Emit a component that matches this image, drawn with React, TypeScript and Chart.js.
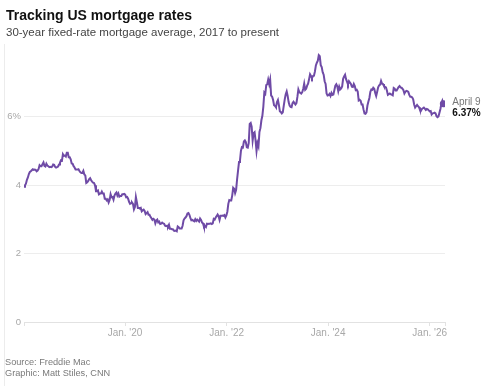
import React, { useEffect, useRef } from "react";
import { Chart, registerables } from "chart.js";

Chart.register(...registerables);

// Freddie Mac PMMS 30-year fixed rate, weekly (%)
const rates2018 = [3.95, 3.99, 4.04, 4.15, 4.22, 4.32, 4.38, 4.40, 4.43, 4.46, 4.44, 4.45, 4.44, 4.40, 4.42, 4.47, 4.58, 4.55, 4.55, 4.61, 4.66, 4.56, 4.54, 4.62, 4.57, 4.55, 4.52, 4.53, 4.52, 4.54, 4.60, 4.59, 4.53, 4.51, 4.52, 4.54, 4.60, 4.65, 4.72, 4.71, 4.90, 4.85, 4.86, 4.83, 4.94, 4.94, 4.81, 4.81, 4.75, 4.63, 4.62, 4.55];
const rates2019 = [4.51, 4.45, 4.45, 4.45, 4.46, 4.41, 4.37, 4.35, 4.35, 4.41, 4.31, 4.28, 4.06, 4.08, 4.12, 4.17, 4.20, 4.14, 4.10, 4.07, 4.06, 3.99, 3.82, 3.82, 3.84, 3.73, 3.75, 3.75, 3.81, 3.75, 3.75, 3.60, 3.60, 3.55, 3.58, 3.49, 3.56, 3.73, 3.64, 3.65, 3.57, 3.69, 3.75, 3.78, 3.69, 3.75, 3.66, 3.68, 3.68, 3.73, 3.73, 3.74];
const rates2020 = [3.72, 3.64, 3.65, 3.60, 3.51, 3.45, 3.47, 3.49, 3.45, 3.29, 3.36, 3.65, 3.50, 3.33, 3.33, 3.31, 3.33, 3.23, 3.26, 3.28, 3.24, 3.15, 3.18, 3.21, 3.13, 3.13, 3.07, 3.03, 2.98, 3.01, 2.99, 2.88, 2.96, 2.99, 2.91, 2.93, 2.86, 2.87, 2.90, 2.88, 2.87, 2.81, 2.80, 2.81, 2.78, 2.84, 2.72, 2.72, 2.71, 2.71, 2.67, 2.66, 2.67];
const rates2021 = [2.65, 2.79, 2.77, 2.73, 2.73, 2.73, 2.81, 2.97, 3.02, 3.05, 3.09, 3.17, 3.18, 3.13, 3.04, 2.97, 2.98, 2.96, 2.94, 3.00, 2.95, 2.99, 2.96, 2.93, 3.02, 2.98, 2.90, 2.88, 2.78, 2.80, 2.77, 2.87, 2.86, 2.87, 2.87, 2.88, 2.86, 2.88, 3.01, 2.99, 3.05, 3.09, 3.14, 3.09, 2.98, 3.10, 3.10, 3.11, 3.10, 3.12, 3.05, 3.11];
const rates2022 = [3.22, 3.45, 3.56, 3.55, 3.55, 3.69, 3.92, 3.89, 3.76, 3.85, 4.16, 4.42, 4.67, 4.72, 5.00, 5.11, 5.10, 5.27, 5.30, 5.25, 5.10, 5.09, 5.23, 5.78, 5.81, 5.70, 5.30, 5.51, 5.54, 5.30, 4.99, 5.22, 5.13, 5.55, 5.66, 5.89, 6.02, 6.29, 6.70, 6.66, 6.92, 6.94, 7.08, 6.95, 7.08, 6.61, 6.58, 6.49, 6.33, 6.31, 6.27, 6.42];
const rates2023 = [6.48, 6.33, 6.15, 6.13, 6.09, 6.12, 6.32, 6.50, 6.65, 6.73, 6.60, 6.42, 6.32, 6.28, 6.27, 6.39, 6.43, 6.39, 6.35, 6.39, 6.57, 6.79, 6.71, 6.69, 6.67, 6.71, 6.81, 6.96, 6.78, 6.81, 6.90, 6.96, 7.09, 7.23, 7.18, 7.12, 7.18, 7.19, 7.31, 7.49, 7.57, 7.63, 7.79, 7.76, 7.50, 7.44, 7.29, 7.22, 7.03, 6.95, 6.67, 6.61];
const rates2024 = [6.62, 6.66, 6.60, 6.69, 6.63, 6.64, 6.77, 6.90, 6.94, 6.88, 6.74, 6.87, 6.79, 6.82, 6.88, 7.10, 7.17, 7.22, 7.09, 7.02, 6.94, 7.03, 6.99, 6.95, 6.87, 6.86, 6.95, 6.89, 6.77, 6.78, 6.73, 6.47, 6.49, 6.46, 6.35, 6.35, 6.20, 6.09, 6.08, 6.12, 6.32, 6.44, 6.54, 6.72, 6.79, 6.78, 6.84, 6.81, 6.69, 6.60, 6.72, 6.85];
const rates2025 = [6.91, 6.93, 7.04, 6.96, 6.95, 6.89, 6.87, 6.85, 6.76, 6.63, 6.65, 6.67, 6.65, 6.64, 6.62, 6.83, 6.81, 6.76, 6.76, 6.81, 6.86, 6.89, 6.85, 6.84, 6.81, 6.77, 6.67, 6.72, 6.75, 6.74, 6.72, 6.63, 6.58, 6.58, 6.56, 6.50, 6.35, 6.26, 6.30, 6.34, 6.30, 6.27, 6.19, 6.17, 6.22, 6.24, 6.26, 6.23, 6.19, 6.22, 6.21, 6.18];
const rates2026 = [6.15, 6.16, 6.06, 6.09, 6.10, 6.11, 6.09, 6.01, 5.98, 6.00, 6.11, 6.22, 6.38, 6.46, 6.37];

// first weekly release date of each year block [year, monthIndex, day]
const blockStarts: [number, number, number][] = [
  [2018, 0, 4], [2019, 0, 3], [2020, 0, 2], [2021, 0, 7], [2022, 0, 6],
  [2023, 0, 5], [2024, 0, 4], [2025, 0, 2], [2026, 0, 1],
];
const blocks = [rates2018, rates2019, rates2020, rates2021, rates2022, rates2023, rates2024, rates2025, rates2026];

const tickYears = [2020, 2022, 2024, 2026];
const yTicks = [0, 2, 4, 6];
const axisEnd: [number, number, number] = [2026, 3, 21];
const lastLabelDate = "April 9";

const TITLE = "Tracking US mortgage rates";
const SUBTITLE = "30-year fixed-rate mortgage average, 2017 to present";
const SOURCE = "Source: Freddie Mac";
const CREDIT = "Graphic: Matt Stiles, CNN";

const PURPLE = "#6f4ba6";
const FONT = "'Liberation Sans', Arial, Helvetica, sans-serif";

const WEEK = 7 * 24 * 3600 * 1000;

function buildPoints() {
  const pts: { x: number; y: number }[] = [];
  blocks.forEach((arr, bi) => {
    const [y, m, d] = blockStarts[bi];
    const t0 = Date.UTC(y, m, d);
    arr.forEach((v, i) => pts.push({ x: t0 + i * WEEK, y: v }));
  });
  return pts;
}

export default function App() {
  const ref = useRef<HTMLCanvasElement | null>(null);

  useEffect(() => {
    if (!ref.current) return;
    const pts = buildPoints();
    const last = pts[pts.length - 1];
    const xMin = pts[0].x;
    const xMax = Date.UTC(axisEnd[0], axisEnd[1], axisEnd[2]);
    const yearTickValues = tickYears.map((y) => Date.UTC(y, 0, 1));

    const endLabel = {
      id: "endLabel",
      afterDatasetsDraw(chart: any) {
        const meta = chart.getDatasetMeta(1);
        const p = meta.data[0];
        if (!p) return;
        const ctx = chart.ctx;
        ctx.save();
        ctx.textAlign = "left";
        ctx.textBaseline = "middle";
        ctx.fillStyle = "#777";
        ctx.font = `10px ${FONT}`;
        ctx.fillText(lastLabelDate, p.x + 9, p.y - 2);
        ctx.fillStyle = "#111";
        ctx.font = `bold 10px ${FONT}`;
        ctx.fillText(`${last.y.toFixed(2)}%`, p.x + 9, p.y + 9);
        ctx.restore();
      },
    };

    const chart = new Chart(ref.current, {
      type: "line",
      data: {
        datasets: [
          {
            data: pts,
            borderColor: PURPLE,
            borderWidth: 2,
            pointRadius: 0,
            tension: 0,
            fill: false,
          },
          {
            data: [last],
            borderColor: PURPLE,
            backgroundColor: PURPLE,
            pointRadius: 3.5,
            borderWidth: 0,
            showLine: false,
          },
        ],
      },
      options: {
        responsive: false,
        animation: false,
        devicePixelRatio: 1,
        layout: { padding: { left: 0, top: 48, right: 37, bottom: 44 } },
        plugins: {
          legend: { display: false },
          tooltip: { enabled: false },
          title: { display: false },
        },
        scales: {
          x: {
            type: "linear",
            min: xMin,
            max: xMax,
            afterBuildTicks: (scale: any) => {
              scale.ticks = [xMin, ...yearTickValues, xMax].map((value) => ({ value }));
            },
            afterFit: (scale: any) => {
              scale.height = 20;
            },
            grid: {
              display: true,
              drawOnChartArea: false,
              drawTicks: true,
              tickLength: 4,
              color: "#e2e2e2",
            },
            border: { display: true, color: "#e2e2e2" },
            ticks: {
              autoSkip: false,
              maxRotation: 0,
              padding: 1,
              color: "#a8a8a8",
              font: { family: FONT, size: 10 },
              callback: (value: any) => {
                const idx = yearTickValues.indexOf(Number(value));
                if (idx < 0) return "";
                return `Jan. '${String(tickYears[idx]).slice(2)}`;
              },
            },
          },
          y: {
            min: 0,
            max: 8,
            afterBuildTicks: (scale: any) => {
              scale.ticks = yTicks.map((value) => ({ value }));
            },
            afterFit: (scale: any) => {
              scale.width = 24;
            },
            grid: { color: "#ededed", drawTicks: false },
            border: { display: false },
            ticks: {
              padding: 3,
              color: "#a8a8a8",
              font: { family: FONT, size: 9.5 },
              callback: (value: any) => (Number(value) === 6 ? "6%" : String(value)),
            },
          },
        },
      },
      plugins: [endLabel],
    });
    return () => chart.destroy();
  }, []);

  return (
    <div
      style={{
        position: "fixed",
        left: 0,
        top: 0,
        width: 482,
        height: 386,
        background: "#ffffff",
        overflow: "hidden",
        fontFamily: FONT,
      }}
    >
      <canvas ref={ref} width={482} height={386} style={{ position: "absolute", left: 0, top: 0, display: "block" }} />
      <div style={{ position: "absolute", left: 4, top: 44, width: 1, height: 342, background: "#ececec" }} />
      <div
        style={{
          position: "absolute",
          left: 6,
          top: 7.6,
          fontSize: 14,
          lineHeight: "14px",
          fontWeight: "bold",
          color: "#111",
          whiteSpace: "nowrap",
        }}
      >
        {TITLE}
      </div>
      <div
        style={{
          position: "absolute",
          left: 6,
          top: 27,
          fontSize: 11.5,
          lineHeight: "11.5px",
          color: "#444",
          whiteSpace: "nowrap",
        }}
      >
        {SUBTITLE}
      </div>
      <div
        style={{
          position: "absolute",
          left: 5,
          top: 357,
          fontSize: 9.2,
          lineHeight: "10.5px",
          color: "#7a7a7a",
          whiteSpace: "nowrap",
        }}
      >
        <div>{SOURCE}</div>
        <div>{CREDIT}</div>
      </div>
    </div>
  );
}
